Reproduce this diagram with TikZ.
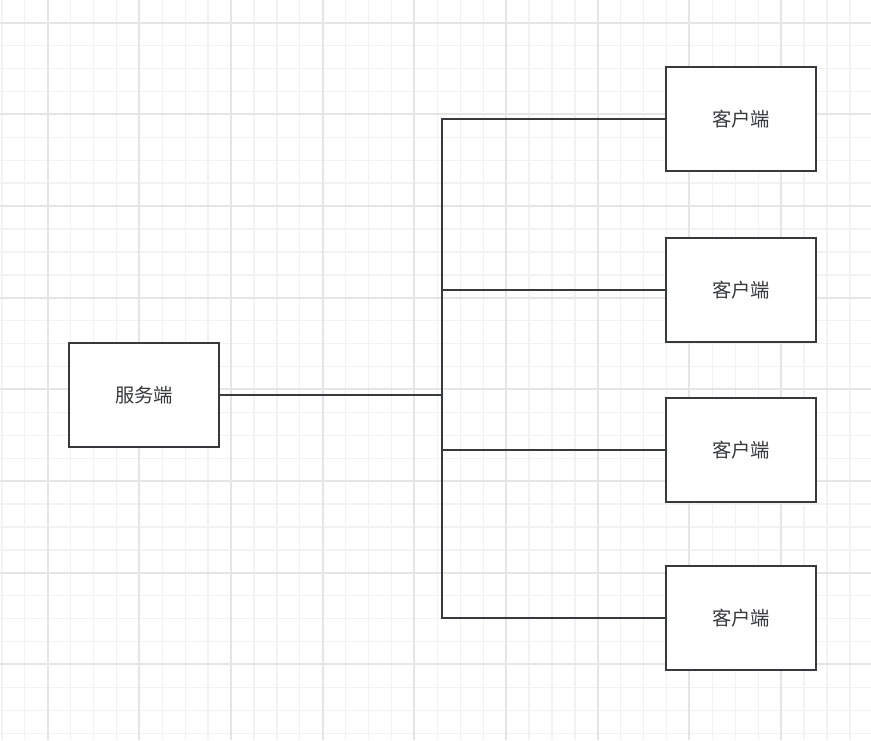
\documentclass[tikz,border=0pt]{standalone}
\usepackage{fontspec}
\newfontfamily\cjk{Noto Sans CJK SC}
\definecolor{line_gray}{RGB}{54, 57, 61}
\definecolor{grid_minor}{RGB}{242, 242, 242}
\definecolor{grid_major}{RGB}{229, 229, 229}
\tikzstyle{box}=[rectangle,fill=white,draw=line_gray,line width=1.5pt,
  minimum width=112.5pt,minimum height=78pt,inner sep=0pt,
  font=\cjk\fontsize{14.5}{17}\selectfont,text=line_gray]
\tikzstyle{link}=[draw=line_gray,line width=1.5pt]
\tikzstyle{minorgrid}=[draw=grid_minor,line width=1pt]
\tikzstyle{majorgrid}=[draw=grid_major,line width=1.5pt]

\begin{document}
\begin{tikzpicture}[x=0.75pt,y=-0.75pt]
    \useasboundingbox (0,0) rectangle (871,740);
    \fill[white] (0,0) rectangle (871,740);
    % background grid
    \foreach \i in {0,...,38}
        \draw[minorgrid] ({1.86+\i*22.92},0) -- ++(0,740);
    \foreach \i in {0,...,32}
        \draw[minorgrid] (0,{-0.2+\i*22.92}) -- ++(871,0);
    \foreach \i in {0,...,9}
        \draw[majorgrid] ({47.7+\i*91.68},0) -- ++(0,740);
    \foreach \i in {0,...,7}
        \draw[majorgrid] (0,{22.7+\i*91.68}) -- ++(871,0);
    \node [style=box] (server) at (144,395) {服务端};
    \node [style=box] (c1) at (741,119) {客户端};
    \node [style=box] (c2) at (741,290) {客户端};
    \node [style=box] (c3) at (741,450) {客户端};
    \node [style=box] (c4) at (741,618) {客户端};
    \coordinate (bus) at (442,395);
    \draw [style=link, line width=2pt] (server) to (bus);
    \draw [style=link] (bus) |- (c1);
    \draw [style=link] (bus) |- (c2);
    \draw [style=link] (bus) |- (c3);
    \draw [style=link] (bus) |- (c4);
\end{tikzpicture}
\end{document}
